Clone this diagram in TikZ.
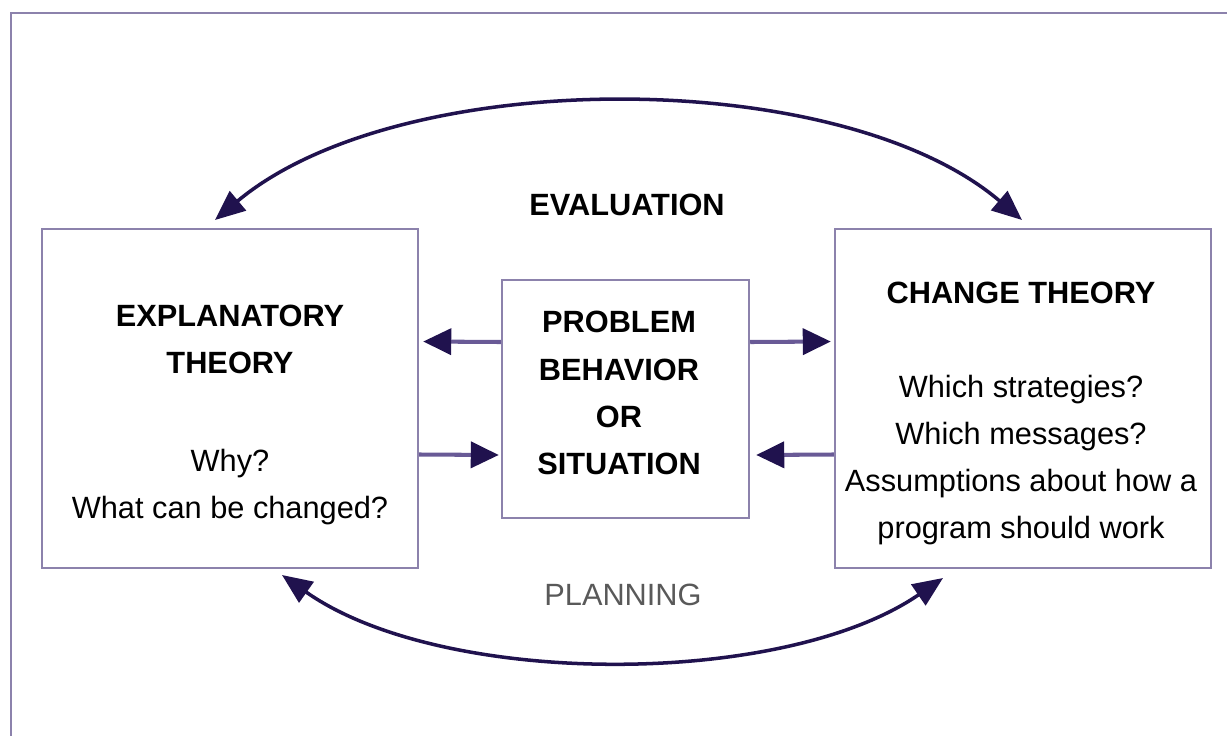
\documentclass[tikz,border=0pt]{standalone}
\usepackage{fontspec}
\setmainfont{Liberation Sans}
\usepackage{xcolor}
\usetikzlibrary{arrows.meta, calc, positioning}
\definecolor{boxline}{RGB}{140,130,172}
\definecolor{arrowdark}{RGB}{32,18,78}
\definecolor{shaft}{RGB}{105,90,150}
\newcommand{\txtsize}{\fontsize{17.5}{26.8}\selectfont}

\begin{document}
\begin{tikzpicture}[
        theorybox/.style={draw=boxline, line width=1.4pt, minimum width=7.52cm, minimum height=6.78cm},
        txt/.style={align=center, font=\txtsize},
        sidearrow/.style={draw=shaft, line width=2.3pt, -{Triangle[length=0.56cm, width=0.52cm, color=arrowdark]}},
        cyclearrow/.style={draw=arrowdark, line width=2pt, {Triangle[length=0.6cm, width=0.5cm]}-{Triangle[length=0.6cm, width=0.5cm]}}
    ]
                        \useasboundingbox (0,0) rectangle (24.54,-14.72);
                        \draw[boxline, line width=1.2pt] (24.54,-0.26) -- (0.22,-0.26) -- (0.22,-14.72);

                        \node[theorybox] (expl) at (4.6,-7.97) {};
                        \node[theorybox, minimum width=4.94cm, minimum height=4.76cm] (prob) at (12.51,-7.98) {};
                        \node[theorybox] (change) at (20.46,-7.97) {};

                        \node[txt, font=\txtsize\bfseries] (explhead) at (4.6,-6.78) {EXPLANATORY\\THEORY};
                        \node[txt] (explq) at (4.6,-9.74) {Why?\\What can be changed?};
                        \node[txt, font=\txtsize\bfseries] (probtxt) at (12.38,-7.86) {PROBLEM\\BEHAVIOR\\OR\\SITUATION};
                        \node[txt, font=\txtsize\bfseries] (changehead) at (20.42,-5.86) {CHANGE THEORY};
                        \node[txt] (changeq) at (20.42,-9.2) {Which strategies?\\Which messages?\\Assumptions about how a\\program should work};
                        \node[txt, font=\txtsize\bfseries] (eval) at (12.54,-4.1) {EVALUATION};
                        \node[txt, text=black!65] (plan) at (12.46,-11.9) {PLANNING};

                        \coordinate (evalL) at (4.3,-4.4);
                        \coordinate (evalR) at (20.44,-4.4);
                        \coordinate (planL) at (5.64,-11.5);
                        \coordinate (planR) at (18.86,-11.56);

                        \draw[sidearrow] ([yshift=1.14cm]prob.west) -- ([yshift=1.14cm,xshift=0.08cm]expl.east);
                        \draw[sidearrow] ([yshift=1.14cm]prob.east) -- ([yshift=1.14cm,xshift=-0.06cm]change.west);
                        \draw[sidearrow] ([yshift=-1.12cm]expl.east) -- ([yshift=-1.12cm,xshift=-0.04cm]prob.west);
                        \draw[sidearrow] ([yshift=-1.12cm]change.west) -- ([yshift=-1.12cm,xshift=0.12cm]prob.east);

                        \draw[cyclearrow] (evalL) .. controls (8.0,-1.3) and (16.8,-1.3) .. (evalR);
                        \draw[cyclearrow] (planL) .. controls (8.84,-13.76) and (15.66,-13.76) .. (planR);
                    \end{tikzpicture}
\end{document}
